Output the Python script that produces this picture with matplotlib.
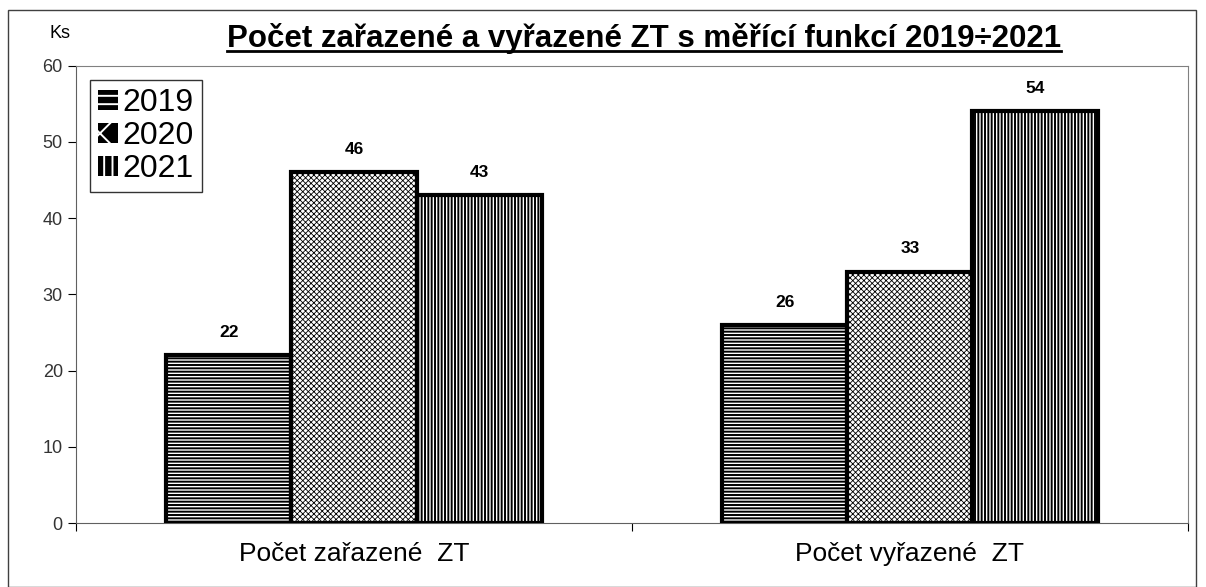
import numpy as np
import matplotlib.pyplot as plt
from matplotlib.patches import Rectangle, Patch

plt.rcParams['font.family'] = ['Liberation Sans', 'DejaVu Sans']

# Data
categories = ['Počet zařazené  ZT', 'Počet vyřazené  ZT']
years = ['2019', '2020', '2021']
values_2019 = [22, 26]
values_2020 = [46, 33]
values_2021 = [43, 54]
hatches = ['-----', 'xxxxxx', '|||||']
hatch_lw = [1.4, 0.6, 1.4]

fig = plt.figure(figsize=(12.06, 5.87), dpi=100)
ax = fig.add_axes([0.063, 0.109, 0.922, 0.779])

x = np.arange(len(categories))
w = 0.225
series = [values_2019, values_2020, values_2021]
for i, (yr, vals, h) in enumerate(zip(years, series, hatches)):
    plt.rcParams['hatch.linewidth'] = hatch_lw[i]
    bars = ax.bar(x + (i - 1) * w, vals, w, color='white', edgecolor='black',
                  linewidth=3, hatch=h, zorder=3)
    for b, v in zip(bars, vals):
        ax.text(b.get_x() + b.get_width() / 2, v + 2.0, str(v), ha='center',
                va='bottom', fontsize=12.5, fontweight='bold')
plt.rcParams['hatch.linewidth'] = 1.4

ax.set_xlim(-0.5, 1.5)
ax.set_ylim(0, 60)
ax.set_yticks(range(0, 61, 10))
ax.set_xticks([-0.5, 0.5, 1.5], minor=False)
ax.set_xticklabels([])
ax.set_xticks(x, minor=True)
ax.set_xticklabels(categories, minor=True, fontsize=19)
ax.tick_params(axis='x', which='minor', length=0, pad=14)
ax.tick_params(axis='x', which='major', length=6, direction='out')
ax.tick_params(axis='y', labelsize=13, length=6, direction='out',
               labelcolor='#333333')

for s in ['top', 'right']:
    ax.spines[s].set_color('#808080')
ax.spines['left'].set_color('#606060')
ax.spines['bottom'].set_color('#606060')

handles = [Patch(facecolor='black', edgecolor='white', hatch=h, lw=0)
           for h in ['--', 'x', '||']]
leg = ax.legend(handles, years, loc='upper left', fontsize=23, frameon=True,
                fancybox=False, edgecolor='black', handlelength=0.6,
                handleheight=0.6, handletextpad=0.15, borderpad=0.25,
                labelspacing=0.1, borderaxespad=0.45)
leg.get_frame().set_linewidth(1)

title = fig.text(0.534, 0.935,
                 'Počet zařazené a vyřazené ZT s měřící funkcí 2019÷2021',
                 ha='center', va='center', fontsize=22.5, fontweight='bold')
fig.canvas.draw()
bb = title.get_window_extent().transformed(fig.transFigure.inverted())
fig.add_artist(plt.Line2D([bb.x0, bb.x1], [bb.y0 + 0.004, bb.y0 + 0.004],
                          color='black', linewidth=2,
                          transform=fig.transFigure))
fig.text(0.050, 0.943, 'Ks', ha='center', va='center', fontsize=13)

fig.add_artist(Rectangle((0.007, 0.0), 0.985, 0.983, fill=False,
                         edgecolor='#404040', linewidth=1,
                         transform=fig.transFigure))

fig.savefig('out.png', dpi=100)
